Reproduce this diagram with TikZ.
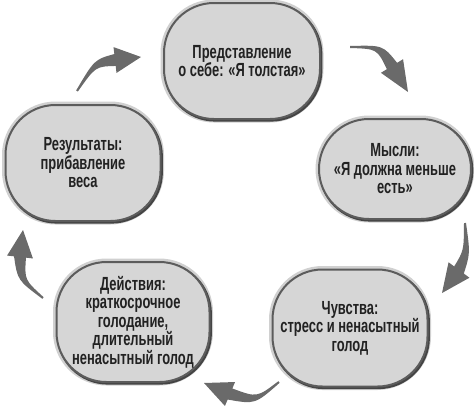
\documentclass[tikz,border=0pt]{standalone}
\usepackage{fontspec}
\setmainfont[FakeStretch=0.68]{Liberation Sans}
\usetikzlibrary{calc}
\definecolor{boxfill}{HTML}{D6D6D6}
\definecolor{boxline}{HTML}{5C5C5C}
\definecolor{boxshade}{HTML}{444444}
\definecolor{boxhalo}{HTML}{D0D0D0}
\definecolor{arrowc}{HTML}{6A6A6A}
\definecolor{txt}{HTML}{222222}
\tikzset{
  cyclebox/.style={rectangle, rounded corners=50pt, fill=boxfill, draw=boxline,
    line width=2pt, text=txt, align=center, inner sep=0pt,
    font=\bfseries\fontsize{19}{18.5}\selectfont,
    preaction={draw=boxhalo, line width=7pt},
    preaction={draw=boxshade, line width=2.4pt, transform canvas={shift={(1.2pt,-1.4pt)}}}},
  cyclearrow/.style={fill=arrowc, draw=none}
}
\newcommand\tapered[3]{% prefix: #1t tail, #1c control, #1h head base, #1p tip; #2 shaft half width, #3 barb half width
  \fill[cyclearrow] ($(#1t)!1pt!90:(#1c)$) .. controls ($(#1c)!3.5pt!90:(#1h)$) .. ($(#1h)!#2!90:(#1p)$)
    -- ($(#1h)!#3!90:(#1p)$) -- (#1p) -- ($(#1h)!#3!-90:(#1p)$)
    -- ($(#1h)!#2!-90:(#1p)$) .. controls ($(#1c)!3.5pt!-90:(#1h)$) .. ($(#1t)!1pt!-90:(#1c)$) -- cycle;}
\begin{document}
\begin{tikzpicture}[x=1pt,y=-1pt]
\useasboundingbox (0,0) rectangle (474,407);
\node[cyclebox, minimum width=156pt, minimum height=116pt] (self) at (242,61) {Представление\\о себе: «Я толстая»};
\node[cyclebox, minimum width=152pt, minimum height=100pt] (thoughts) at (395,169) {Мысли:\\«Я должна меньше\\есть»};
\node[cyclebox, minimum width=155pt, minimum height=117pt] (feelings) at (350,328) {Чувства:\\стресс и ненасытный\\голод};
\node[cyclebox, minimum width=153pt, minimum height=120pt] (actions) at (133,322) {Действия:\\краткосрочное\\голодание,\\длительный\\ненасытный голод};
\node[cyclebox, minimum width=155pt, minimum height=116pt] (results) at (83,163) {Результаты:\\прибавление\\веса};
% arrow 1: results -> self
\coordinate (at) at (77,91); \coordinate (ac) at (95,63); \coordinate (ah) at (115,60); \coordinate (ap) at (141,57);
\tapered{a}{6pt}{13pt}
% arrow 2: self -> thoughts
\coordinate (bt) at (350,47); \coordinate (bc) at (380,47); \coordinate (bh) at (392,66); \coordinate (bp) at (408,92);
\tapered{b}{6pt}{13pt}
% arrow 3: thoughts -> feelings
\coordinate (ct) at (465,223); \coordinate (cc) at (467,252); \coordinate (ch) at (459,270); \coordinate (cp) at (442,293);
\tapered{c}{6pt}{13pt}
% arrow 4: feelings -> actions
\coordinate (dt) at (279,382); \coordinate (dc) at (256,401); \coordinate (dh) at (230,394); \coordinate (dp) at (204,383);
\tapered{d}{6pt}{13pt}
% arrow 5: actions -> results
\coordinate (et) at (43,298); \coordinate (ec) at (21,280); \coordinate (eh) at (20,257); \coordinate (ep) at (23,230);
\tapered{e}{6pt}{13pt}
\end{tikzpicture}
\end{document}
